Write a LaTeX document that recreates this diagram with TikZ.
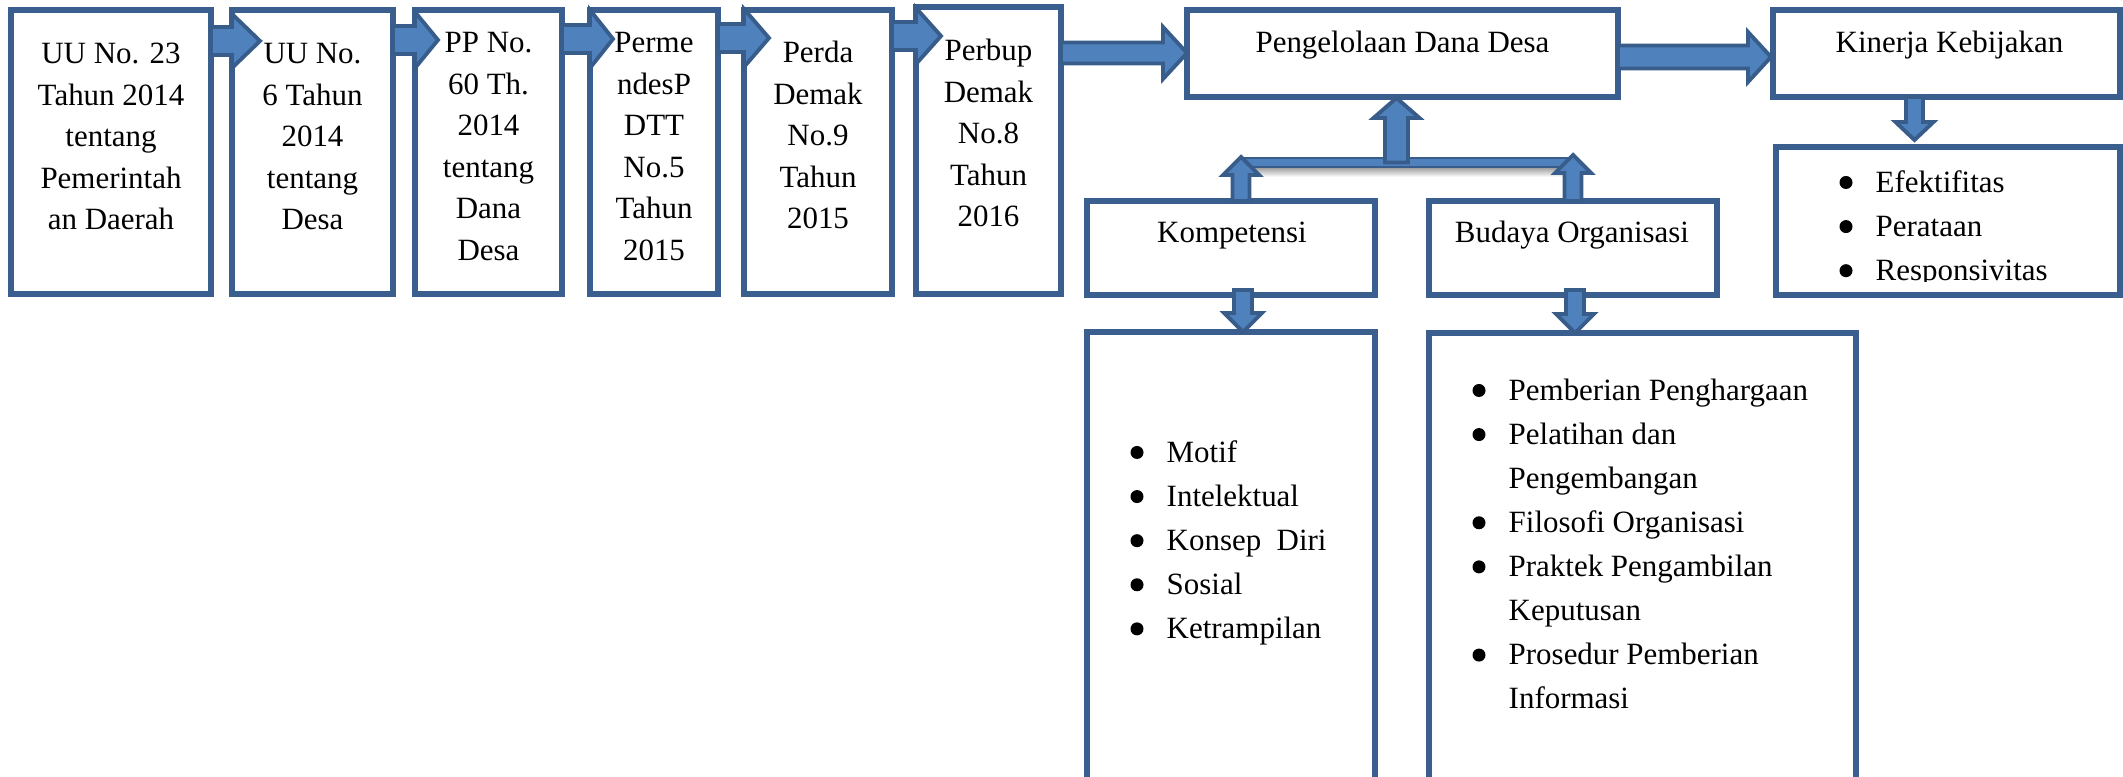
\documentclass[tikz,border=0pt]{standalone}
\usepackage{fontspec}
\setmainfont{Liberation Serif}
\usetikzlibrary{calc,fit}
\definecolor{boxline}{HTML}{3A5F8F}
\definecolor{arrowfill}{HTML}{4F81BD}
\definecolor{arrowline}{HTML}{385D8A}
\tikzset{
    box/.style={draw=boxline,line width=1.5pt,fill=white,inner sep=0pt,outer sep=0pt},
    txt/.style={inner sep=0pt,align=center,anchor=north,font=\fontsize{8.8}{11.8}\selectfont},
    lst/.style={inner sep=0pt,align=left,anchor=north west,font=\fontsize{8.8}{12.5}\selectfont},
    blockarrow/.style={fill=arrowfill,draw=arrowline,line width=1.1pt,line join=miter}
}
\newcommand{\hblock}[5]{%
    \draw[blockarrow] ($(#1)+(0,-#4)$) -- ($(#2)+(-#3,-#4)$) -- ($(#2)+(-#3,-#5)$) -- (#2)
        -- ($(#2)+(-#3,#5)$) -- ($(#2)+(-#3,#4)$) -- ($(#1)+(0,#4)$) -- cycle;}
\newcommand{\vblock}[5]{%
    \draw[blockarrow] ($(#1)+(-#4,0)$) -- ($(#2)+(-#4,#3)$) -- ($(#2)+(-#5,#3)$) -- (#2)
        -- ($(#2)+(#5,#3)$) -- ($(#2)+(#4,#3)$) -- ($(#1)+(#4,0)$) -- cycle;}
\newcommand{\itemgap}{\hspace*{0.38cm}}
\begin{document}
\begin{tikzpicture}[x=0.01cm,y=-0.01cm]
    \useasboundingbox (0,0) rectangle (2123,777);
    \clip (0,0) rectangle (2123,777);
    \node[box,fit={(11,10) (211,294)}] (b1) {};
    \node[box,fit={(232,10) (393,294)}] (b2) {};
    \node[box,fit={(415,10) (562,294)}] (b3) {};
    \node[box,fit={(590,10) (718,294)}] (b4) {};
    \node[box,fit={(744,10) (892,294)}] (b5) {};
    \node[box,fit={(916,7) (1061,294)}] (b6) {};
    \node[box,fit={(1187,10) (1618,97)}] (pdd) {};
    \node[box,fit={(1773,10) (2120,97)}] (kin) {};
    \node[box,fit={(1776,147) (2120,295)}] (kinlist) {};
    \node[box,fit={(1087,201) (1375,295)}] (komp) {};
    \node[box,fit={(1429,201) (1717,295)}] (bud) {};
    \node[box,fit={(1087,332) (1375,800)}] (komplist) {};
    \node[box,fit={(1429,333) (1856,800)}] (budlist) {};

    \coordinate (a1t) at ($(b1.north east)+(0,31)$);
    \coordinate (a1h) at ($(b2.west |- a1t)+(28,0)$);
    \coordinate (a2t) at ($(b2.north east)+(0,30)$);
    \coordinate (a2h) at ($(b3.west |- a2t)+(23,0)$);
    \coordinate (a3t) at ($(b3.north east)+(0,29)$);
    \coordinate (a3h) at ($(b4.west |- a3t)+(23,0)$);
    \coordinate (a4t) at ($(b4.north east)+(0,28)$);
    \coordinate (a4h) at ($(b5.west |- a4t)+(25,0)$);
    \coordinate (a5t) at ($(b5.north east)+(0,26)$);
    \coordinate (a5h) at ($(b6.west |- a5t)+(25,0)$);
    \coordinate (a6t) at ($(b6.north east)+(0,46)$);
    \coordinate (a6h) at (pdd.west |- a6t);
    \coordinate (a7t) at ($(pdd.north east)+(0,47)$);
    \coordinate (a7h) at ($(kin.west |- a7t)+(-2,0)$);
    \hblock{a1t}{a1h}{28}{14}{27}
    \hblock{a2t}{a2h}{23}{14}{28}
    \hblock{a3t}{a3h}{23}{14}{29}
    \hblock{a4t}{a4h}{25}{14}{29}
    \hblock{a5t}{a5h}{25}{14}{28}
    \hblock{a6t}{a6h}{24}{10.5}{26}
    \hblock{a7t}{a7h}{23}{11.5}{25}

    \shade[top color=black!40,bottom color=white] (1252,167) rectangle (1570,177);
    \node[fill=arrowfill,draw=arrowline,line width=0.6pt,inner sep=0pt,outer sep=0pt,fit={(1241,158) (1575,167)}] (bar) {};
    \coordinate (u0h) at ($(pdd.south)+(-6,1)$);
    \coordinate (u0t) at (u0h |- bar.center);
    \coordinate (u1h) at ($(bar.north west)+(0,-1)$);
    \coordinate (u1t) at (u1h |- komp.north);
    \coordinate (u2h) at ($(bar.north east)+(-2,-3)$);
    \coordinate (u2t) at (u2h |- bud.north);
    \vblock{u0t}{u0h}{20}{11.5}{23}
    \vblock{u1t}{u1h}{18}{8.5}{18}
    \vblock{u2t}{u2h}{18}{8.5}{18}

    \coordinate (d1t) at ($(komp.south)+(12,-5)$);
    \coordinate (d1h) at (d1t |- komplist.north);
    \coordinate (d2t) at ($(bud.south)+(2,-5)$);
    \coordinate (d2h) at (d2t |- budlist.north);
    \coordinate (d3t) at ($(kin.south)+(-32,0)$);
    \coordinate (d3h) at ($(d3t |- kinlist.north)+(0,-7)$);
    \vblock{d1t}{d1h}{-19}{9}{19}
    \vblock{d2t}{d2h}{-19}{9}{19}
    \vblock{d3t}{d3h}{-18}{8.5}{19}

    \node[txt] (t1) at ($(b1.north)+(0,24)$) {\strut UU No. 23\\Tahun 2014\\tentang\\Pemerintah\\an Daerah};
    \node[txt] (t2) at ($(b2.north)+(0,24)$) {\strut UU No.\\6 Tahun\\2014\\tentang\\Desa};
    \node[txt] (t3) at ($(b3.north)+(0,13)$) {\strut PP No.\\60 Th.\\2014\\tentang\\Dana\\Desa};
    \node[txt] (t4) at ($(b4.north)+(0,13)$) {\strut Perme\\ndesP\\DTT\\No.5\\Tahun\\2015};
    \node[txt] (t5) at ($(b5.north)+(0,23)$) {\strut Perda\\Demak\\No.9\\Tahun\\2015};
    \node[txt] (t6) at ($(b6.north)+(0,24)$) {\strut Perbup\\Demak\\No.8\\Tahun\\2016};
    \node[txt] (tpdd) at ($(pdd.north)+(0,13)$) {\strut Pengelolaan Dana Desa};
    \node[txt] (tkin) at ($(kin.north)+(3,13)$) {\strut Kinerja Kebijakan};
    \node[txt] (tkomp) at ($(komp.north)+(1,12)$) {\strut Kompetensi};
    \node[txt] (tbud) at ($(bud.north)+(-1,12)$) {\strut Budaya Organisasi};

    \begin{scope}
        \clip (kinlist.north west) rectangle ($(kinlist.south east)+(0,-13)$);
        \node[lst] (lkin) at ($(kinlist.north west)+(61,14)$) {\strut\itemgap Efektifitas\\\itemgap Perataan\\\itemgap Responsivitas};
        \foreach \k in {0,1,2}
            \fill ($(lkin.north west)+(9,21.5+44.1*\k)$) circle (0.065cm);
    \end{scope}
    \node[lst] (lkomp) at ($(komplist.north west)+(41,99)$) {\strut\itemgap Motif\\\itemgap Intelektual\\\itemgap Konsep\ \ Diri\\\itemgap Sosial\\\itemgap Ketrampilan};
    \foreach \k in {0,...,4}
        \fill ($(lkomp.north west)+(9,21.5+44.1*\k)$) circle (0.065cm);
    \node[lst] (lbud) at ($(budlist.north west)+(41,36)$) {\strut\itemgap Pemberian Penghargaan\\\itemgap Pelatihan dan\\\itemgap Pengembangan\\\itemgap Filosofi Organisasi\\\itemgap Praktek Pengambilan\\\itemgap Keputusan\\\itemgap Prosedur Pemberian\\\itemgap Informasi};
    \foreach \k in {0,1,3,4,6}
        \fill ($(lbud.north west)+(9,21.5+44.1*\k)$) circle (0.065cm);
\end{tikzpicture}
\end{document}
